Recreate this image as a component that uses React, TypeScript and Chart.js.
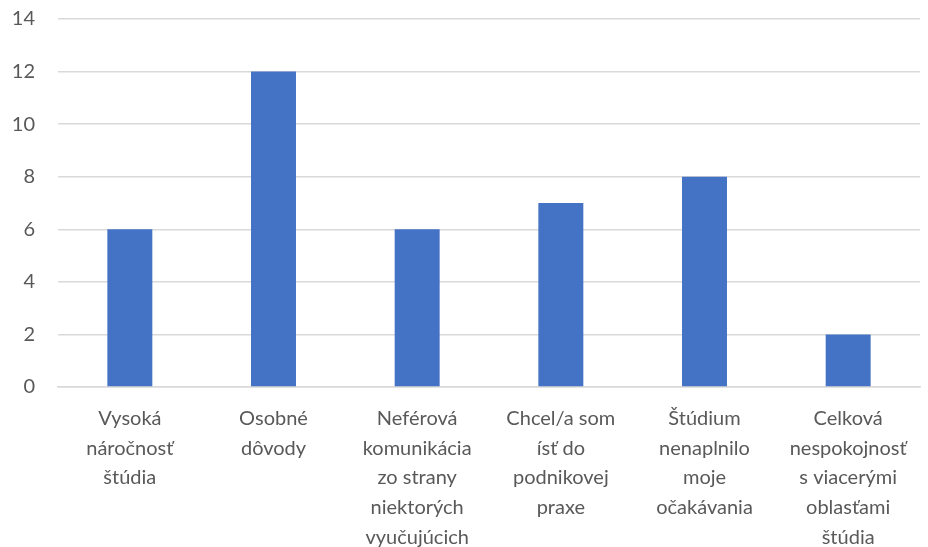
import React, { useEffect, useRef } from "react";
import { Chart, registerables } from "chart.js";

Chart.register(...registerables);

const categories: string[][] = [
  ["Vysoká", "náročnosť", "štúdia"],
  ["Osobné", "dôvody"],
  ["Neférová", "komunikácia", "zo strany", "niektorých", "vyučujúcich"],
  ["Chcel/a som", "ísť do", "podnikovej", "praxe"],
  ["Štúdium", "nenaplnilo", "moje", "očakávania"],
  ["Celková", "nespokojnosť", "s viacerými", "oblasťami", "štúdia"],
];
const values: number[] = [6, 12, 6, 7, 8, 2];
const yTicks: number[] = [0, 2, 4, 6, 8, 10, 12, 14];

export default function App() {
  const ref = useRef<HTMLCanvasElement | null>(null);
  useEffect(() => {
    if (!ref.current) return;
    const font = { family: "Lato, 'Open Sans', sans-serif", size: 20 };
    const chart = new Chart(ref.current, {
      type: "bar",
      data: {
        labels: categories,
        datasets: [
          {
            data: values,
            backgroundColor: "#4472C4",
            categoryPercentage: 1,
            barPercentage: 0.313,
          },
        ],
      },
      options: {
        animation: false,
        responsive: false,
        maintainAspectRatio: false,
        layout: { padding: { top: 19, right: 8, left: 0, bottom: 0 } },
        plugins: { legend: { display: false }, tooltip: { enabled: false } },
        scales: {
          x: {
            grid: { display: false, drawTicks: false },
            border: { display: true, color: "#d9d9d9", width: 1.5 },
            ticks: {
              color: "#595959",
              font: { ...font, lineHeight: 1.48 },
              maxRotation: 0,
              autoSkip: false,
              padding: 17,
            },
            afterFit: (s: any) => {
              s.height = 160;
            },
          },
          y: {
            min: 0,
            max: 14,
            afterBuildTicks: (s: any) => {
              s.ticks = yTicks.map((v) => ({ value: v }));
            },
            grid: { color: "#d9d9d9", lineWidth: 1.5, drawTicks: false },
            border: { display: false },
            ticks: { color: "#595959", font, padding: 23 },
            afterFit: (s: any) => {
              s.width = 58;
              s.paddingTop = 0;
              s.paddingBottom = 0;
            },
          },
        },
      },
    });
    return () => chart.destroy();
  }, []);
  return (
    <div style={{ position: "absolute", left: 0, top: 0, width: 928, height: 547, background: "#fff" }}>
      <canvas ref={ref} width={928} height={547} />
    </div>
  );
}
